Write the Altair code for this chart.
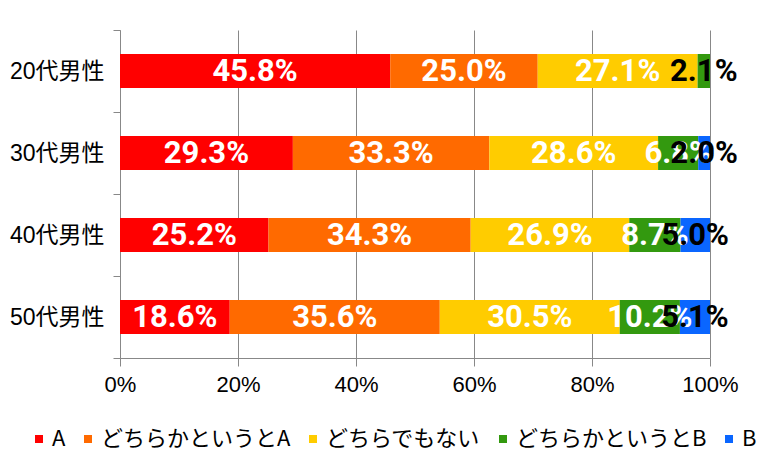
import altair as alt
import pandas as pd

groups = ["20代男性", "30代男性", "40代男性", "50代男性"]
series = ["A", "どちらかというとA", "どちらでもない", "どちらかというとB", "B"]
colors = ["#FF0000", "#FF6A00", "#FFCC00", "#33990F", "#0A66FF"]
vals_20 = [45.8, 25.0, 27.1, 2.1, 0.0]
vals_30 = [29.3, 33.3, 28.6, 6.8, 2.0]
vals_40 = [25.2, 34.3, 26.9, 8.7, 5.0]
vals_50 = [18.6, 35.6, 30.5, 10.2, 5.1]
x_ticks = [0, 0.2, 0.4, 0.6, 0.8, 1.0]

rows = []
for g, vals in zip(groups, [vals_20, vals_30, vals_40, vals_50]):
    last_nz = max(i for i, v in enumerate(vals) if v > 0)
    for i, (s, v) in enumerate(zip(series, vals)):
        rows.append({"group": g, "series": s, "value": v, "idx": i,
                     "dark": 1 if i == last_nz else 0})
df = pd.DataFrame(rows)

base = alt.Chart(df).transform_stack(
    stack="value", as_=["x0", "x1"], groupby=["group"],
    sort=[alt.SortField("idx")], offset="normalize"
).transform_calculate(
    mid="(datum.x0 + datum.x1) / 2",
    lbl="format(datum.value, '.1f') + '%'"
)

yenc = alt.Y("group:N", sort=groups, title=None,
             scale=alt.Scale(paddingInner=0, paddingOuter=0),
             axis=alt.Axis(tickBand="extent", domainColor="#888888", tickColor="#888888",
                           tickSize=7, labelFontSize=23, labelColor="#000000",
                           labelFont="Liberation Sans, Noto Sans CJK JP",
                           labelPadding=9, grid=False))

bars = base.mark_bar(size=34).encode(
    x=alt.X("x0:Q", scale=alt.Scale(domain=[0, 1]), title=None,
            axis=alt.Axis(values=x_ticks, format=".0%", domainColor="#888888",
                          tickColor="#888888", tickSize=8, gridColor="#888888",
                          gridOpacity=1, labelFontSize=22, labelColor="#000000",
                          labelFont="Liberation Sans", labelPadding=8,
                          labelFlush=False)),
    x2="x1:Q",
    y=yenc,
    color=alt.Color("series:N", sort=series,
                    scale=alt.Scale(domain=series, range=colors),
                    legend=alt.Legend(title=None, orient="none", direction="horizontal",
                                      legendX=-92, legendY=398, symbolType="square",
                                      symbolSize=64, symbolStrokeWidth=0,
                                      labelFontSize=22, labelColor="#000000",
                                      labelFont="Noto Sans CJK JP", labelOffset=2,
                                      columnPadding=11, labelLimit=400))
)

textfont = "Roboto, Liberation Sans, sans-serif"
white_text = base.transform_filter("datum.value > 0 && datum.dark == 0").mark_text(
    font=textfont, fontWeight="bold", fontSize=31, color="#FFFFFF", baseline="middle", dy=1
).encode(x="mid:Q", y=alt.Y("group:N", sort=groups), text="lbl:N")

black_text = base.transform_filter("datum.value > 0 && datum.dark == 1").mark_text(
    font=textfont, fontWeight="bold", fontSize=31, color="#000000", baseline="middle", dy=1
).encode(x="mid:Q", y=alt.Y("group:N", sort=groups), text="lbl:N")

chart = alt.layer(bars, white_text, black_text).properties(
    width=590, height=328,
    autosize=alt.AutoSizeParams(type="none"),
    padding={"left": 112, "top": 22, "right": 48, "bottom": 102}
).configure_view(stroke="transparent")

chart.save("out.html", embed_options={"renderer": "svg", "actions": False})
